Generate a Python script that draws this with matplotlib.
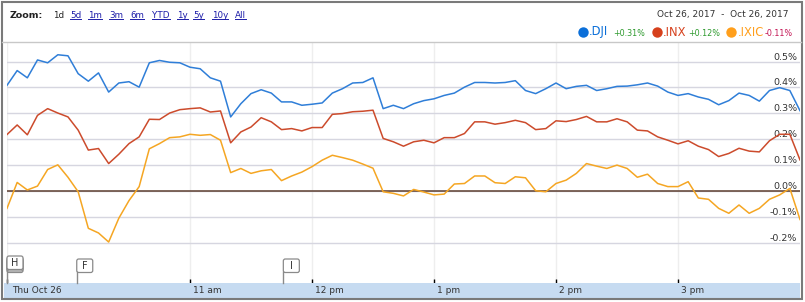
import numpy as np
import matplotlib
matplotlib.use('Agg')
import matplotlib.pyplot as plt
import matplotlib.transforms as mtransforms
from matplotlib.patches import FancyBboxPatch, Rectangle

# minutes after 9:30 (5 minute samples), percent change vs previous close
minutes = np.arange(0, 391, 5)

dji = [0.408, 0.465, 0.437, 0.506, 0.495, 0.526, 0.522, 0.453, 0.424, 0.456, 0.382, 0.417, 0.422, 0.401, 0.495, 0.504,
       0.497, 0.495, 0.478, 0.472, 0.437, 0.424, 0.286, 0.337, 0.376, 0.391, 0.378, 0.344, 0.344, 0.331, 0.335,
       0.340, 0.378, 0.395, 0.417, 0.419, 0.437, 0.318, 0.331, 0.318, 0.337, 0.349, 0.356, 0.369, 0.378, 0.401, 0.419,
       0.419, 0.417, 0.419, 0.426, 0.388, 0.376, 0.395, 0.417, 0.395, 0.404, 0.408, 0.388, 0.395, 0.404, 0.405, 0.410,
       0.417, 0.405, 0.382, 0.369, 0.376, 0.363, 0.354, 0.333, 0.349, 0.378, 0.369, 0.347, 0.388, 0.399, 0.388, 0.310]

inx = [0.218, 0.255, 0.217, 0.292, 0.318, 0.301, 0.286, 0.235, 0.158, 0.164, 0.106, 0.142, 0.183, 0.209, 0.277, 0.276,
       0.301, 0.314, 0.318, 0.321, 0.305, 0.309, 0.186, 0.228, 0.247, 0.283, 0.267, 0.237, 0.241, 0.232, 0.245,
       0.245, 0.296, 0.299, 0.306, 0.308, 0.312, 0.203, 0.190, 0.173, 0.190, 0.196, 0.186, 0.206, 0.206, 0.222, 0.267,
       0.267, 0.258, 0.264, 0.273, 0.264, 0.237, 0.241, 0.271, 0.268, 0.276, 0.288, 0.267, 0.267, 0.279, 0.267, 0.235,
       0.232, 0.209, 0.196, 0.182, 0.194, 0.173, 0.160, 0.133, 0.145, 0.165, 0.154, 0.151, 0.194, 0.219, 0.219, 0.120]

ixic = [-0.067, 0.033, 0.004, 0.019, 0.083, 0.101, 0.053, -0.003, -0.144, -0.162, -0.197, -0.105, -0.037, 0.017, 0.163, 0.183,
        0.206, 0.209, 0.219, 0.215, 0.218, 0.196, 0.071, 0.087, 0.068, 0.078, 0.083, 0.040, 0.058, 0.073, 0.094,
        0.119, 0.138, 0.129, 0.119, 0.104, 0.088, -0.003, -0.009, -0.019, 0.006, -0.004, -0.015, -0.012, 0.027, 0.029, 0.058,
        0.058, 0.032, 0.029, 0.055, 0.051, 0.001, -0.003, 0.029, 0.042, 0.068, 0.106, 0.096, 0.087, 0.100, 0.087, 0.053,
        0.065, 0.029, 0.017, 0.017, 0.036, -0.027, -0.032, -0.067, -0.086, -0.054, -0.086, -0.067, -0.032, -0.015, 0.010, -0.110]

names = ['.DJI', '.INX', '.IXIC']
changes = ['+0.31%', '+0.12%', '-0.11%']
line_colors = ['#2f7ed8', '#cc4b2c', '#f5a623']
dot_colors = ['#0b6fd9', '#d6401c', '#ff9f1c']
change_colors = ['#2e9a2e', '#2e9a2e', '#c41454']

hour_minutes = [90, 150, 210, 270, 330]
hour_labels = ['11 am', '12 pm', '1 pm', '2 pm', '3 pm']
day_label = 'Thu Oct 26'
y_ticks = [-0.2, -0.1, 0.0, 0.1, 0.2, 0.3, 0.4, 0.5]
y_labels = ['-0.2%', '-0.1%', '0.0%', '0.1%', '0.2%', '0.3%', '0.4%', '0.5%']
zoom_links = ['1d', '5d', '1m', '3m', '6m', 'YTD', '1y', '5y', '10y', 'All']
flag_letters = ['H', 'F', 'I']
flag_minutes = [0, 34.3, 135.9]
date_range = 'Oct 26, 2017  -  Oct 26, 2017'

W, H = 805, 302
fig = plt.figure(figsize=(W / 100, H / 100), dpi=100)
fig.patch.set_facecolor('white')

# main plot
ax = fig.add_axes([7 / W, 1 - 283 / H, 793 / W, 241 / H])
ax.set_xlim(0, 390)
ax.set_ylim(-0.3552, 0.5753)
ax.set_yticks(y_ticks)
ax.set_xticks([0] + hour_minutes)
ax.yaxis.grid(True, color='#d6d6e0', lw=1)
ax.xaxis.grid(True, color='#eeeeee', lw=1)
ax.tick_params(axis='y', length=0, labelleft=False)
ax.tick_params(axis='x', direction='in', length=3, width=1, color='black', labelbottom=False)
for s in ax.spines.values():
    s.set_visible(False)
ax.axhline(0, color='#5e3f30', lw=1.1, zorder=2)

for vals, c in zip([dji, inx, ixic], line_colors):
    ax.plot(minutes, vals, color=c, lw=1.1, zorder=3)

lab_trans = mtransforms.offset_copy(ax.get_yaxis_transform(), fig=fig, x=-3, y=4.5, units='dots')
for v, lab in zip(y_ticks, y_labels):
    ax.text(1.0, v, lab, transform=lab_trans, ha='right', va='center', fontsize=6.8, color='#333333', zorder=1)

# time bar
bar = fig.add_axes([4 / W, 1 - 298 / H, 796 / W, 15 / H])
bar.set_xlim(-3 * 390 / 793, 390)
bar.set_facecolor('#c6dbf1')
bar.set_xticks([])
bar.set_yticks([])
for s in bar.spines.values():
    s.set_visible(False)
bt = bar.get_xaxis_transform()
bar.text(2.5, 0.5, day_label, transform=bt, ha='left', va='center', fontsize=6.5, color='#333333')
for m, lab in zip(hour_minutes, hour_labels):
    bar.text(m + 1.5, 0.5, lab, transform=bt, ha='left', va='center', fontsize=6.5, color='#333333')

# overlay in pixel coords
ov = fig.add_axes([0, 0, 1, 1], zorder=10)
ov.set_xlim(0, W)
ov.set_ylim(H, 0)
ov.axis('off')
ov.patch.set_alpha(0)

ov.add_patch(Rectangle((2, 1.5), 799.5, 297, fill=False, ec='#7a7a7a', lw=1.5))
ov.plot([2, 801], [42, 42], color='#c8c8c8', lw=1)

# zoom links
ov.text(10, 15, 'Zoom:', fontweight='bold', fontsize=6.8, va='center', color='#222222')
link_x = [53, 70, 88, 109, 130, 152, 177, 193, 212, 235]
link_texts = []
for lab, x in zip(zoom_links, link_x):
    col = '#222222' if lab == '1d' else '#1c1ca8'
    t = ov.text(x, 15, lab, fontsize=6.3, va='center', color=col)
    link_texts.append((lab, t))

ov.text(788, 14, date_range, ha='right', va='center', fontsize=6.5, color='#333333')

# legend
dot_x = [582.5, 656.5, 731]
name_x = [589, 663, 738]
chg_x = [613, 688, 765]
for i in range(3):
    ov.plot(dot_x[i], 32, 'o', ms=7.5, color=dot_colors[i], mec='none')
    ov.text(name_x[i], 35.5, names[i], fontsize=8.3, color=dot_colors[i], va='baseline')
    ov.text(chg_x[i], 36.5, changes[i], fontsize=5.8, color=change_colors[i], va='baseline')

# flags
for letter, m in zip(flag_letters, flag_minutes):
    fx = ax.transData.transform((m, 0))[0]
    top = 256 if letter == 'H' else 259
    if letter == 'H':
        for off in (3, 1.5):
            ov.add_patch(FancyBboxPatch((fx, top + off), 16, 13.5, boxstyle='round,pad=0,rounding_size=2',
                                        fc='white', ec='#8a8a8a', lw=0.9))
    ov.plot([fx, fx], [top + 13, 283], color='#8a8a8a', lw=1)
    ov.add_patch(FancyBboxPatch((fx, top), 16, 13.5, boxstyle='round,pad=0,rounding_size=2',
                                fc='white', ec='#8a8a8a', lw=0.9))
    ov.text(fx + 8, top + 7, letter, ha='center', va='center', fontsize=7, color='#333333')

# underline the links
fig.canvas.draw()
inv = ov.transData.inverted()
for lab, t in link_texts:
    if lab == '1d':
        continue
    bb = t.get_window_extent()
    (x0, y0), (x1, y1) = inv.transform([(bb.x0, bb.y0), (bb.x1, bb.y1)])
    ov.plot([x0, x1], [y0 - 0.5, y0 - 0.5], color='#1c1ca8', lw=0.7)

fig.savefig('out.png', dpi=100)
